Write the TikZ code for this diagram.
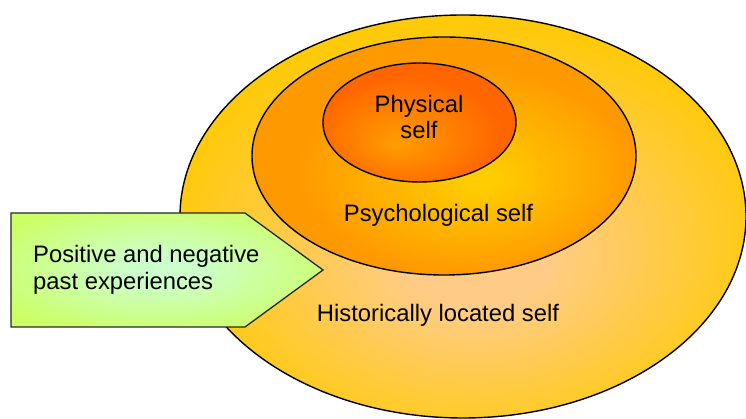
\documentclass[tikz,border=0pt]{standalone}
\usepackage{fontspec}
\setmainfont{Liberation Sans}
\usetikzlibrary{shapes.geometric}
\definecolor{gold}{HTML}{FFCA08}
\definecolor{peach}{HTML}{FFCC88}
\definecolor{yellowM}{HTML}{FFCC00}
\definecolor{orangeM}{HTML}{FF9900}
\definecolor{orangeI}{HTML}{FF6600}
\definecolor{limeE}{HTML}{CCFF66}
\definecolor{limeC}{HTML}{CCFFCC}
\pgfdeclareradialshading{outershade}{\pgfpoint{1.5bp}{-6bp}}{color(0bp)=(peach); color(6bp)=(peach); color(27bp)=(gold); color(50bp)=(gold)}
\pgfdeclareradialshading{middleshade}{\pgfpoint{5bp}{-5bp}}{color(0bp)=(yellowM); color(2bp)=(yellowM); color(22bp)=(orangeM); color(50bp)=(orangeM)}
\pgfdeclareradialshading{innershade}{\pgfpoint{-6bp}{-9bp}}{color(0bp)=(orangeM); color(2bp)=(orangeM); color(24bp)=(orangeI); color(50bp)=(orangeI)}
\pgfdeclareradialshading{arrowshade}{\pgfpoint{-1.5bp}{0.5bp}}{color(0bp)=(limeC); color(5bp)=(limeC); color(30bp)=(limeE); color(50bp)=(limeE)}
\tikzset{
  ring/.style={ellipse, draw=black, line width=1.4pt, inner sep=0pt},
  lbl/.style={font=\fontsize{23.8}{27}\selectfont, inner sep=0pt, text=black},
}
\begin{document}
\begin{tikzpicture}[x=1pt,y=1pt]
\useasboundingbox (0,0) rectangle (746,419);
\clip (0,0) rectangle (746,419);
\node[ring, shading=outershade, minimum width=566, minimum height=403] (outer) at (463,202.5) {};
\node[ring, shading=middleshade, minimum width=384, minimum height=238] (middle) at (444,263) {};
\node[ring, shading=innershade, minimum width=193, minimum height=119] (inner) at (419.5,296.5) {};
\draw[line width=1.3pt, shading=arrowshade, draw=black!85] (11,206) -- (245,206) -- (323,149) -- (245,92) -- (11,92) -- cycle;
\node[lbl, anchor=base] (phys) at (419,306) {Physical};
\node[lbl, anchor=base] (physb) at (419,280) {self};
\node[lbl, anchor=base] (psych) at (438.5,197) {Psychological self};
\node[lbl, anchor=base] (hist) at (438,97) {Historically located self};
\node[lbl, anchor=base west] (exp1) at (33,156) {Positive and negative};
\node[lbl, anchor=base west] (exp2) at (33,129) {past experiences};
\end{tikzpicture}
\end{document}
